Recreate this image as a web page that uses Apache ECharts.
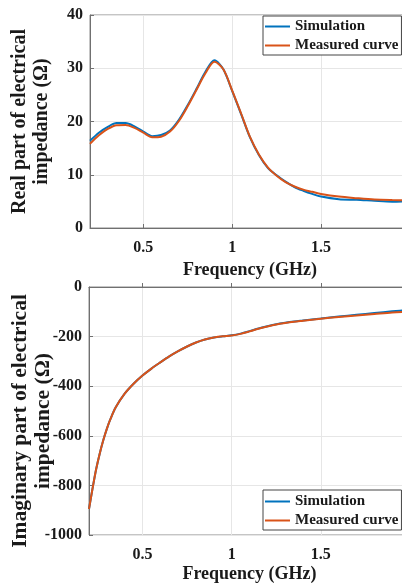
<!DOCTYPE html>
<html>
<head>
<meta charset="utf-8">
<script src="https://cdn.jsdelivr.net/npm/echarts@6/dist/echarts.min.js"></script>
<style>
html,body{margin:0;padding:0;background:#fff;}
#chart{width:402px;height:587px;}
</style>
</head>
<body>
<div id="chart"></div>
<script>
// ---- data ----
const xTickValues = [0.5, 1, 1.5];

const realFreq = [0.2,0.25,0.3,0.35,0.4,0.45,0.5,0.55,0.6,0.65,0.7,0.75,0.8,0.85,0.9,0.95,1.0,1.05,1.1,1.15,1.2,1.25,1.3,1.35,1.4,1.45,1.5,1.6,1.7,1.8,1.9,2.0];
const realSimulation = [16.4,17.9,19.0,19.7,19.7,19.1,18.1,17.25,17.45,18.3,20.3,23.1,26.2,29.4,31.5,29.8,25.7,21.4,17.0,13.7,11.3,9.9,8.7,7.7,7.0,6.4,5.9,5.4,5.3,5.1,4.95,5.05];
const realMeasured   = [15.8,17.4,18.6,19.3,19.35,18.8,17.9,17.05,17.15,18.1,20.1,22.9,26.0,29.1,31.2,29.8,25.8,21.5,17.1,13.8,11.4,9.8,8.6,7.8,7.2,6.8,6.4,5.9,5.6,5.35,5.25,5.2];

const imagFreq = [0.2,0.22,0.24,0.26,0.28,0.3,0.32,0.35,0.4,0.45,0.5,0.55,0.6,0.65,0.7,0.75,0.8,0.85,0.9,0.95,1.0,1.05,1.1,1.15,1.2,1.25,1.3,1.35,1.4,1.5,1.6,1.7,1.8,1.9,2.0];
const imagSimulation = [-895,-812,-735,-672,-618,-572,-533,-485,-430,-390,-357,-329,-304,-280,-259,-240,-224,-212,-204,-199,-195,-188,-178,-167,-158,-150,-144,-139,-135,-127,-119,-112,-105,-98,-92];
const imagMeasured   = [-895,-812,-735,-672,-618,-572,-533,-485,-430,-390,-357,-329,-304,-280,-259,-240,-224,-212,-204,-199,-196,-189,-179,-168,-159,-151,-145,-140,-136,-128,-121,-115,-109,-103,-99];

const seriesNames = ['Simulation', 'Measured curve'];
const seriesColors = ['#0072BD', '#D95319'];

// ---- chart ----
const FONT = 'Liberation Serif';
const TXT = '#1a1a1a';
const pair = (xs, ys) => xs.map((x, i) => [x, ys[i]]);

function xAxisCfg(gridIndex, nameGap) {
  return {
    type: 'value', gridIndex, min: 0.2, max: 2,
    name: 'Frequency (GHz)', nameLocation: 'middle', nameGap,
    nameMoveOverlap: false,
    nameTextStyle: {fontFamily: FONT, fontWeight: 'bold', fontSize: 18, color: TXT},
    axisLine: {show: true, lineStyle: {color: '#707070', width: 1}},
    axisTick: {show: true, inside: true, length: 4, customValues: xTickValues, lineStyle: {color: '#707070'}},
    axisLabel: {customValues: xTickValues, fontFamily: FONT, fontWeight: 'bold', fontSize: 16, color: TXT, margin: 12,
      formatter: v => String(v)},
    splitLine: {show: true, lineStyle: {color: '#e6e6e6', width: 1}}
  };
}
function yAxisCfg(gridIndex, min, max, interval, name, fs, lh, gap, pad) {
  return {
    type: 'value', gridIndex, min, max, interval,
    name, nameLocation: 'middle', nameRotate: 90, nameGap: gap,
    nameMoveOverlap: false,
    nameTextStyle: {fontFamily: FONT, fontWeight: 'bold', fontSize: fs, lineHeight: lh, color: TXT, padding: pad},
    axisLine: {show: true, lineStyle: {color: '#707070', width: 1}},
    axisTick: {show: true, inside: true, length: 4, lineStyle: {color: '#707070'}},
    axisLabel: {fontFamily: FONT, fontWeight: 'bold', fontSize: 16, color: TXT, margin: 7,
      formatter: v => String(v)},
    splitLine: {show: true, lineStyle: {color: '#e6e6e6', width: 1}}
  };
}
function legendCfg(top, pad, gap) {
  return {
    orient: 'vertical', left: 263, top,
    data: seriesNames,
    icon: 'rect', itemWidth: 25, itemHeight: 2, itemGap: gap,
    padding: pad,
    borderColor: '#444', borderWidth: 1, backgroundColor: '#fff', borderRadius: 0,
    textStyle: {fontFamily: FONT, fontWeight: 'bold', fontSize: 15, lineHeight: 17, color: TXT},
    selectedMode: false
  };
}
function lineSeries(name, color, xi, data) {
  return {
    name, type: 'line', xAxisIndex: xi, yAxisIndex: xi,
    data, showSymbol: false, symbol: 'none', smooth: 0.3,
    lineStyle: {color, width: 2}, itemStyle: {color},
    animation: false, z: name === 'Measured curve' ? 3 : 2
  };
}

const chart = echarts.init(document.getElementById('chart'), null, {renderer: 'canvas'});
chart.setOption({
  backgroundColor: '#fff',
  animation: false,
  grid: [
    {left: 90, top: 15, right: -8, height: 213, show: true, borderColor: '#8a8a8a', borderWidth: 1, backgroundColor: 'transparent', outerBoundsMode: 'none'},
    {left: 89, top: 287, right: -8, height: 248, show: true, borderColor: '#8a8a8a', borderWidth: 1, backgroundColor: 'transparent', outerBoundsMode: 'none'}
  ],
  xAxis: [xAxisCfg(0, 33), xAxisCfg(1, 30)],
  yAxis: [
    yAxisCfg(0, 0, 40, 10, 'Real part of electrical\nimpedance (Ω)', 20, 22, 37, [0, 0, 0, 0]),
    yAxisCfg(1, -1000, 0, 200, 'Imaginary part of electrical\nimpedance (Ω)', 21.5, 23, 34, [0, 20, 0, 0])
  ],
  legend: [legendCfg(16, [2, 3, 1, 2], 2), legendCfg(490, [3, 3, 1, 2], 2)],
  series: [
    lineSeries(seriesNames[0], seriesColors[0], 0, pair(realFreq, realSimulation)),
    lineSeries(seriesNames[1], seriesColors[1], 0, pair(realFreq, realMeasured)),
    lineSeries(seriesNames[0], seriesColors[0], 1, pair(imagFreq, imagSimulation)),
    lineSeries(seriesNames[1], seriesColors[1], 1, pair(imagFreq, imagMeasured))
  ]
});
</script>
</body>
</html>
